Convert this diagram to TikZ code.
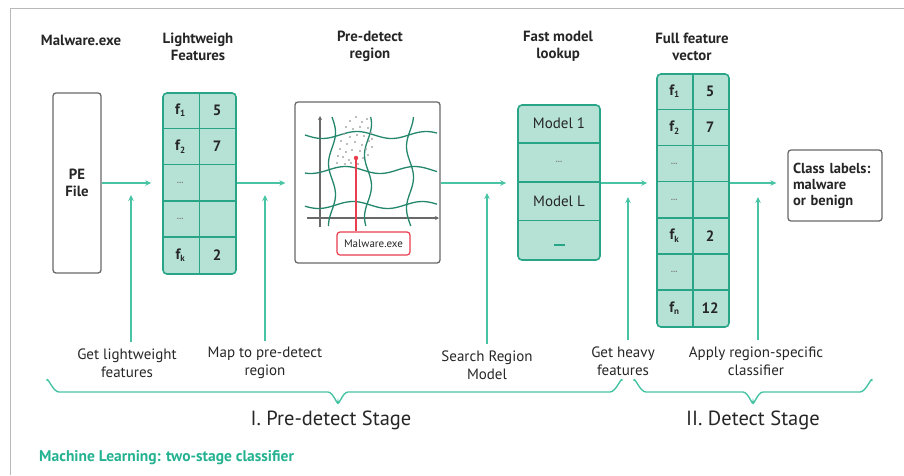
\documentclass[tikz,border=0pt]{standalone}
\usepackage{fontspec}
\setmainfont{PT Sans}
\usetikzlibrary{arrows.meta,calc}
\definecolor{lineteal}{RGB}{72,196,165}
\definecolor{tabfill}{RGB}{182,226,214}
\definecolor{tabline}{RGB}{40,165,135}
\definecolor{gridgreen}{RGB}{36,135,108}
\definecolor{boxgray}{RGB}{105,105,105}
\definecolor{framegray}{RGB}{185,185,185}
\definecolor{redmark}{RGB}{232,62,78}
\definecolor{txt}{RGB}{38,38,38}
\definecolor{titleteal}{RGB}{36,178,145}
\begin{document}
\begin{tikzpicture}[x=1pt,y=-1pt,
  every node/.style={text=txt, inner sep=2pt},
  hdr/.style={font=\fontsize{14.8}{17}\selectfont\bfseries, align=center},
  lbl/.style={font=\fontsize{15}{18}\selectfont, align=center},
  stage/.style={font=\fontsize{20.5}{22}\selectfont},
  graybox/.style={draw=boxgray, line width=1.3pt, rounded corners=3pt},
  tabbox/.style={draw=tabline, fill=tabfill, line width=1.6pt, rounded corners=4pt},
  tabsep/.style={draw=tabline, line width=1.6pt},
  cell/.style={font=\fontsize{15}{17}\selectfont\bfseries},
  dots/.style={font=\fontsize{9}{10}\selectfont\bfseries, text=gray},
  conn/.style={draw=lineteal, line width=1.4pt, -{Stealth[length=6pt,width=5.5pt]}},
  brc/.style={draw=lineteal, line width=1.4pt, rounded corners=0pt},
  wave/.style={draw=gridgreen, line width=1.3pt},
  axis/.style={draw=boxgray, line width=1.1pt, -{Stealth[length=4pt,width=4pt]}}
]
\useasboundingbox (0,0) rectangle (904,475);
% outer frame
\draw[framegray, line width=1.5pt] (10.5,475) -- (10.5,8.5) -- (904,8.5);

% headers
\node[hdr] (h1) at (81,40) {Malware.exe};
\node[hdr] (h2) at (198,46.5) {Lightweigh\\Features};
\node[hdr] (h3) at (370,46.5) {Pre-detect\\region};
\node[hdr] (h4) at (558,46.5) {Fast model\\lookup};
\node[hdr] (h5) at (692,46.5) {Full feature\\vector};

% PE file
\node[graybox, minimum width=48pt, minimum height=180pt, hdr] (pe) at (77,183) {PE\\File};

% lightweight table
\node[tabbox, minimum width=73pt, minimum height=181pt] (lw) at (199.5,183.5) {};
\draw[tabsep] (lw.north) -- (lw.south);
\foreach \i in {1,...,4}
  \draw[tabsep] ($(lw.north west)+(0,\i*36.2)$) -- ($(lw.north east)+(0,\i*36.2)$);
\node[cell] (lwa1) at ($(lw.north west)+(18,18.1)$) {f\raisebox{-0.35ex}{\fontsize{9}{9}\selectfont 1}};
\node[cell] (lwb1) at ($(lw.north west)+(55,18.1)$) {5};
\node[cell] (lwa2) at ($(lw.north west)+(18,54.3)$) {f\raisebox{-0.35ex}{\fontsize{9}{9}\selectfont 2}};
\node[cell] (lwb2) at ($(lw.north west)+(55,54.3)$) {7};
\node[dots] (lwa3) at ($(lw.north west)+(18,90.5)$) {...};
\node[dots] (lwa4) at ($(lw.north west)+(18,126.7)$) {...};
\node[cell] (lwa5) at ($(lw.north west)+(18,162.9)$) {f\raisebox{-0.35ex}{\fontsize{9}{9}\selectfont k}};
\node[cell] (lwb5) at ($(lw.north west)+(55,162.9)$) {2};

% pre-detect region
\node[graybox, minimum width=145pt, minimum height=161pt] (pd) at (367.5,182.5) {};
\draw[axis] (320,227) -- (320,116);
\draw[axis] (307,218) -- (439,218);
\foreach \y/\p in {135/0,170/60,205/20}
  \draw[wave] plot[domain=305:437, samples=45, smooth] (\x, {\y+3.5*sin((\x-305)*5.2+\p)});
\foreach \xx/\p in {332/0,368/50,410/100}
  \draw[wave] plot[domain=117:226, samples=40, smooth] ({\xx+3.5*sin((\x-117)*5.8+\p)}, \x);
\foreach \a/\b in {350/121,356/117,362/122,367/119,346/127,353/129,360/127,368/128,
  344/134,350/137,357/135,364/136,371/133,341/141,347/144,355/142,362/145,369/141,
  340/149,346/152,352/150,360/151,366/149,372/147,343/157,349/160,363/158,368/155,
  338/156,345/164,351/163,372/139,358/164,337/163}
  \fill[gray!70] (\a,\b) circle (1.1pt);
\fill[redmark] (356,158) circle (2.2pt);
\coordinate (rd) at (356,158);
\node[draw=redmark, line width=1.2pt, rounded corners=3pt, minimum width=73pt, minimum height=23pt,
  font=\fontsize{11}{12}\selectfont] (mw) at (373.5,243.5) {Malware.exe};
\draw[redmark, line width=1.2pt] (rd) -- (rd |- mw.north);

% fast model lookup
\node[tabbox, minimum width=82pt, minimum height=155pt] (fm) at (559,182.5) {};
\foreach \i in {1,...,3}
  \draw[tabsep] ($(fm.north west)+(0,\i*38.75)$) -- ($(fm.north east)+(0,\i*38.75)$);
\node[cell, font=\fontsize{15}{17}\selectfont] (fm1) at ($(fm.north)+(0,19.4)$) {Model 1};
\node[dots] (fm2) at ($(fm.north)+(0,58.1)$) {...};
\node[cell, font=\fontsize{15}{17}\selectfont] (fm3) at ($(fm.north)+(0,96.9)$) {Model L};
\fill[tabline] ($(fm.north)+(-5.5,139.5)$) rectangle ($(fm.north)+(5.5,142)$);

% full feature vector
\node[tabbox, minimum width=72pt, minimum height=253pt] (fv) at (693,200.5) {};
\draw[tabsep] (fv.north) -- (fv.south);
\foreach \i in {1,...,6}
  \draw[tabsep] ($(fv.north west)+(0,\i*36.14)$) -- ($(fv.north east)+(0,\i*36.14)$);
\node[cell] (fva1) at ($(fv.north west)+(18,18.1)$) {f\raisebox{-0.35ex}{\fontsize{9}{9}\selectfont 1}};
\node[cell] (fvb1) at ($(fv.north west)+(54,18.1)$) {5};
\node[cell] (fva2) at ($(fv.north west)+(18,54.2)$) {f\raisebox{-0.35ex}{\fontsize{9}{9}\selectfont 2}};
\node[cell] (fvb2) at ($(fv.north west)+(54,54.2)$) {7};
\node[dots] (fva3) at ($(fv.north west)+(18,90.4)$) {...};
\node[dots] (fva4) at ($(fv.north west)+(18,126.5)$) {...};
\node[cell] (fva5) at ($(fv.north west)+(18,162.6)$) {f\raisebox{-0.35ex}{\fontsize{9}{9}\selectfont k}};
\node[cell] (fvb5) at ($(fv.north west)+(54,162.6)$) {2};
\node[dots] (fva6) at ($(fv.north west)+(18,198.8)$) {...};
\node[cell] (fva7) at ($(fv.north west)+(18,234.9)$) {f\raisebox{-0.35ex}{\fontsize{9}{9}\selectfont n}};
\node[cell] (fvb7) at ($(fv.north west)+(54,234.9)$) {12};

% class labels
\node[graybox, minimum width=94pt, minimum height=71pt, align=left, text width=84pt,
  font=\fontsize{14.5}{16}\selectfont\bfseries] (cls) at (835,185.5) {Class labels:\\malware\\or benign};

% main flow arrows
\draw[conn, shorten >=11pt] (pe.east) -- (pe.east -| lw.west);
\draw[conn, shorten >=9pt] (lw.east |- pe.east) -- (pe.east -| pd.west);
\draw[conn, shorten >=11pt] (pd.east |- pe.east) -- (pe.east -| fm.west);
\draw[conn, shorten >=9pt] (fm.east |- pe.east) -- (pe.east -| fv.west);
\draw[conn, shorten >=11pt] (fv.east |- pe.east) -- (pe.east -| cls.west);

% bottom labels
\node[lbl] (gl) at (127,363) {Get lightweight\\features};
\node[lbl] (mp) at (265,363) {Map to pre-detect\\region};
\node[lbl] (sr) at (487,365) {Search Region\\Model};
\node[lbl] (gh) at (623,361) {Get heavy\\features};
\node[lbl] (ap) at (756,361) {Apply region-specific\\classifier};

\coordinate (t1) at (131,195);
\coordinate (t2) at (265,195);
\coordinate (t3) at (487,193);
\coordinate (t4) at (628,197);
\coordinate (t5) at (758,197);
\draw[conn] (t1 |- gl.north) ++(0,-4) -- (t1);
\draw[conn] (t2 |- mp.north) ++(0,-4) -- (t2);
\draw[conn] (t3 |- sr.north) ++(0,-4) -- (t3);
\draw[conn] (t4 |- gh.north) ++(0,-4) -- (t4);
\draw[conn] (t5 |- ap.north) ++(0,-4) -- (t5);

% braces
\draw[brc] (47,381) to[out=90,in=180] (59,392) -- (328,392) to[out=0,in=-90] (338,402)
  to[out=-90,in=180] (348,392) -- (610,392) to[out=0,in=90] (622,381);
\draw[brc] (634,381) to[out=90,in=180] (646,392) -- (743,392) to[out=0,in=-90] (753,402)
  to[out=-90,in=180] (763,392) -- (860,392) to[out=0,in=90] (872,381);

\node[stage] (s1) at (331,420) {I. Pre-detect Stage};
\node[stage] (s2) at (753,420) {II. Detect Stage};

\node[anchor=west, font=\fontsize{15.5}{17}\selectfont\bfseries, text=titleteal] (ft) at (37,458)
  {Machine Learning: two-stage classifier};
\end{tikzpicture}
\end{document}
